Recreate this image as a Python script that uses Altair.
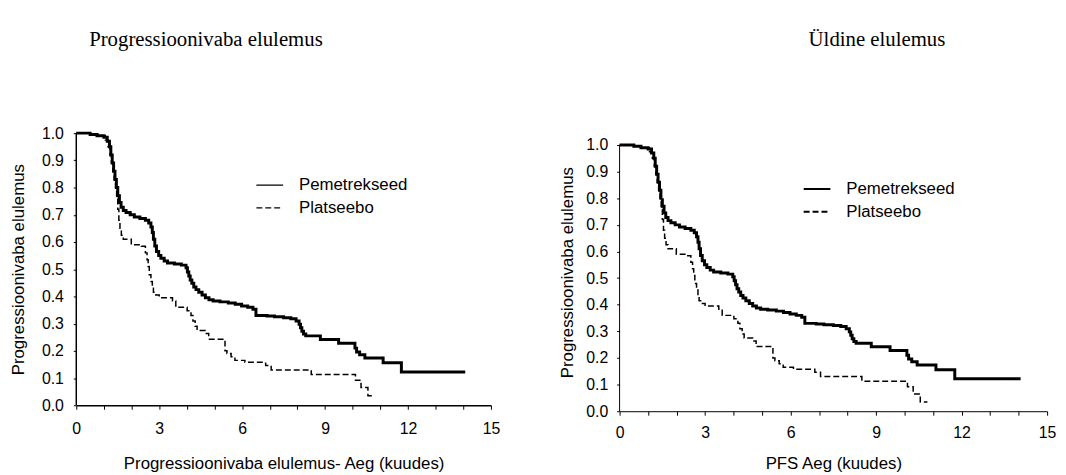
import altair as alt
import pandas as pd

# Kaplan-Meier step points (time in months, survival)
pem_time = [0, 0.5, 0.75, 1.0, 1.12, 1.2, 1.25, 1.3, 1.35, 1.4,
            1.45, 1.5, 1.56, 1.62, 1.7, 1.8, 1.95, 2.1, 2.3, 2.5,
            2.62, 2.7, 2.75, 2.79, 2.84, 2.9, 2.98, 3.06, 3.18, 3.3,
            3.55, 3.8, 3.97, 4.02, 4.07, 4.12, 4.18, 4.25, 4.33, 4.43,
            4.55, 4.67, 4.8, 4.95, 5.2, 5.5, 5.75, 5.98, 6.2, 6.39,
            6.5, 6.9, 7.17, 7.5, 7.76, 7.95, 8.06, 8.11, 8.16, 8.22,
            8.3, 8.83, 9.49, 10.08, 10.14, 10.25, 10.44, 11.1, 11.76, 14.07]
pem_surv = [1.0, 0.995, 0.99, 0.985, 0.97, 0.95, 0.92, 0.89, 0.86, 0.83,
            0.8, 0.77, 0.745, 0.728, 0.716, 0.708, 0.7, 0.692, 0.686, 0.68,
            0.67, 0.655, 0.635, 0.61, 0.585, 0.565, 0.55, 0.54, 0.53, 0.523,
            0.519, 0.515, 0.505, 0.49, 0.475, 0.46, 0.448, 0.435, 0.425, 0.415,
            0.405, 0.395, 0.388, 0.383, 0.38, 0.376, 0.371, 0.365, 0.36, 0.353,
            0.33, 0.328, 0.325, 0.322, 0.318, 0.31, 0.298, 0.285, 0.272, 0.262,
            0.255, 0.242, 0.228, 0.21, 0.196, 0.186, 0.174, 0.156, 0.122, 0.122]

pla_time = [0, 0.5, 0.8, 1.05, 1.15, 1.22, 1.27, 1.32, 1.37, 1.42,
            1.46, 1.5, 1.54, 1.58, 1.63, 1.7, 1.99, 2.35, 2.5, 2.56,
            2.6, 2.64, 2.7, 2.75, 2.79, 2.88, 3.0, 3.48, 3.6, 4.01,
            4.15, 4.22, 4.3, 4.37, 4.67, 4.79, 5.38, 5.45, 5.6, 5.74,
            6.1, 6.85, 7.05, 8.5, 10.1, 10.3, 10.55, 10.8]
pla_surv = [1.0, 0.995, 0.99, 0.975, 0.95, 0.92, 0.89, 0.86, 0.83, 0.8,
            0.76, 0.72, 0.68, 0.65, 0.625, 0.61, 0.59, 0.584, 0.56, 0.535,
            0.51, 0.48, 0.455, 0.43, 0.415, 0.405, 0.395, 0.383, 0.36, 0.347,
            0.33, 0.31, 0.29, 0.275, 0.264, 0.243, 0.2, 0.19, 0.178, 0.165,
            0.158, 0.146, 0.13, 0.113, 0.092, 0.065, 0.035, 0.035]

groups = ["Pemetrekseed", "Platseebo"]
x_ticks = list(range(16))
y_ticks = [round(i * 0.1, 1) for i in range(11)]
panel_titles = ["Progressioonivaba elulemus", "Üldine elulemus"]
x_titles = ["Progressioonivaba elulemus- Aeg (kuudes)", "PFS Aeg (kuudes)"]
y_title = "Progressioonivaba elulemus"

df = pd.concat([
    pd.DataFrame({"t": pem_time, "s": pem_surv, "g": groups[0]}),
    pd.DataFrame({"t": pla_time, "s": pla_surv, "g": groups[1]}),
], ignore_index=True)
axis_df = pd.DataFrame({"x0": [0], "y0": [0.0], "y1": [1.0]})

SANS = "Liberation Sans"
SERIF = "Liberation Serif"


def panel(w, h, ymax, title, title_dx, title_offset, xtitle, xlab_pad,
          xtitle_pad, ylab_pad, ytitle_pad, leg_x, leg_y, leg_sw, dom_w):
    xs = alt.Scale(domain=[0, 15], nice=False)
    ys = alt.Scale(domain=[0, ymax], nice=False)
    x_axis = alt.Axis(values=x_ticks,
                      labelExpr="datum.value % 3 == 0 ? datum.label : ''",
                      title=xtitle, grid=False, tickSize=4,
                      labelPadding=xlab_pad, titlePadding=xtitle_pad,
                      domainWidth=dom_w, tickWidth=1,
                      labelOverlap=False, labelFlush=False)
    y_axis = alt.Axis(values=y_ticks, format=".1f", title=y_title,
                      grid=False, tickSize=3, labelPadding=ylab_pad,
                      titlePadding=ytitle_pad, domain=False,
                      tickWidth=1, labelOverlap=False, labelFlush=False)
    dash_enc = alt.StrokeDash(
        "g:N",
        scale=alt.Scale(domain=groups, range=[[1, 0], [6, 3]]),
        legend=alt.Legend(title=None, orient="none", legendX=leg_x,
                          legendY=leg_y, symbolType="stroke",
                          symbolSize=729, symbolStrokeWidth=leg_sw,
                          symbolStrokeColor="black", labelFont=SANS,
                          labelFontSize=17, labelColor="black",
                          labelOffset=15, rowPadding=0))
    base = alt.Chart(df).encode(
        x=alt.X("t:Q", scale=xs, axis=x_axis),
        y=alt.Y("s:Q", scale=ys, axis=y_axis),
        strokeDash=dash_enc)
    solid = base.transform_filter(alt.datum.g == groups[0]).mark_line(
        interpolate="step-after", color="black", strokeWidth=3,
        strokeCap="butt")
    dashed = base.transform_filter(alt.datum.g == groups[1]).mark_line(
        interpolate="step-after", color="black", strokeWidth=1.5,
        strokeCap="butt")
    yaxis_line = alt.Chart(axis_df).mark_rule(
        color="black", strokeWidth=dom_w
    ).encode(
        x=alt.X("x0:Q", scale=xs, axis=x_axis),
        y=alt.Y("y0:Q", scale=ys, axis=y_axis),
        y2="y1:Q",
    )
    return alt.layer(solid, dashed, yaxis_line).properties(
        width=w, height=h,
        title=alt.TitleParams(title, anchor="start", dx=title_dx,
                              offset=title_offset, font=SERIF, fontSize=21,
                              fontWeight="normal", color="black",
                              frame="group"),
    )


left = panel(419, 275, 1.0, panel_titles[0], 13, 76, x_titles[0], 12, 19,
             10, 14, 181, 38, 1.2, 1.5)
right = panel(432, 281, 281 / 269, panel_titles[1], 191, 84, x_titles[1], 10,
              15, 9, 9, 185, 42, 2, 1)

chart = alt.hconcat(left, right, spacing=59).resolve_scale(
    strokeDash="independent"
).resolve_legend(strokeDash="independent").properties(
    padding={"left": 1, "top": 19, "right": 2, "bottom": 0},
    background="white",
).configure_view(stroke=None).configure_axis(
    labelFont=SANS, labelFontSize=16, labelColor="black",
    titleFont=SANS, titleFontSize=17, titleFontWeight="normal",
    titleColor="black", domainColor="black", tickColor="black"
)

chart.save("out.html", embed_options={"renderer": "svg", "actions": False})
